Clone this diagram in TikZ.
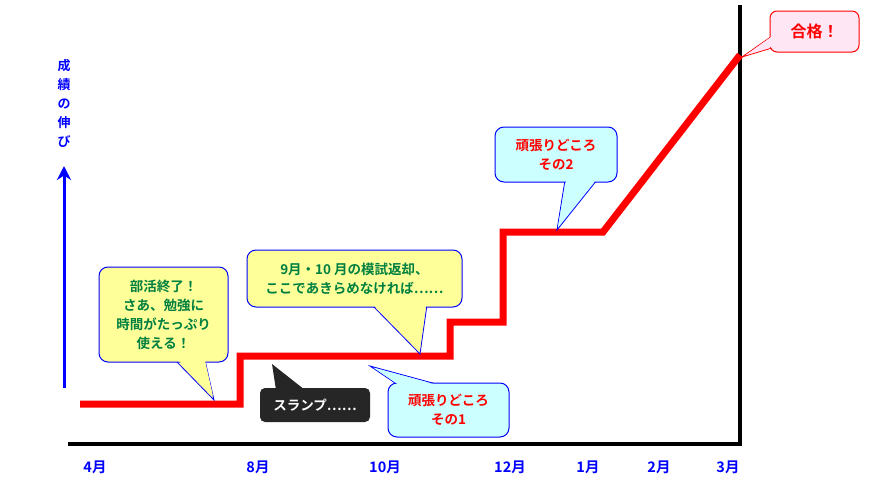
\documentclass[tikz,border=0pt]{standalone}
\usepackage{fontspec}
\setmainfont{Noto Sans CJK JP Bold}
\usetikzlibrary{arrows.meta}
\definecolor{yel}{HTML}{FFFF99}
\definecolor{cya}{HTML}{CCFFFF}
\definecolor{pnk}{HTML}{FFE6F5}
\definecolor{grn}{HTML}{008040}
\definecolor{blu}{HTML}{0000FF}
\definecolor{rd}{HTML}{FF0000}
\tikzset{
 box/.style={rounded corners=9pt,line width=1pt,inner sep=0pt,align=center,font=\fontsize{13.5}{19}\selectfont},
 month/.style={font=\fontsize{14.5}{16}\selectfont,text=blu},
}
\begin{document}
\begin{tikzpicture}[x=1pt,y=-1pt]
\useasboundingbox[fill=white] (0,0) rectangle (870,480);
% axes
\coordinate (o) at (68,444); \coordinate (xe) at (742,444);
\coordinate (yt) at (740,5);
\draw[line width=4pt] (o) -- (xe);
\draw[line width=4pt] (yt) -- (740,446);
% blue arrow
\coordinate (ab) at (64,388); \coordinate (at) at (64,166);
\draw[blu,line width=3pt,-{Stealth[length=14pt,width=14pt]}] (ab) -- (at);
\node[text=blu,font=\fontsize{13}{19}\selectfont,align=center] (ylab) at (64,103) {成\\績\\の\\伸\\び};
% months
\node[month] (m4) at (95,467) {4月};
\node[month] (m8) at (258,467) {8月};
\node[month] (m10) at (385,467) {10月};
\node[month] (m12) at (510,467) {12月};
\node[month] (m1) at (588,467) {1月};
\node[month] (m2) at (659,467) {2月};
\node[month] (m3) at (728,467) {3月};
% red line
\coordinate (p0) at (80,404); \coordinate (p1) at (240,404); \coordinate (p2) at (240,356);
\coordinate (p3) at (450,356); \coordinate (p4) at (450,322); \coordinate (p5) at (503,322);
\coordinate (p6) at (503,232); \coordinate (p7) at (603,232); \coordinate (p8) at (740,55);
\draw[rd,line width=7pt] (p0)--(p1)--(p2)--(p3)--(p4)--(p5)--(p6)--(p7)--(p8);
% callout 1
\draw[blu,fill=yel,line width=0.8pt] (175,360) -- (214,400) -- (205,360);
\node[box,draw=blu,fill=yel,text=grn,minimum width=129pt,minimum height=95pt] (c1) at (163.5,314.5) {部活終了！\\さあ、勉強に\\時間がたっぷり\\使える！};
\fill[yel] (176,358) -- (213,396) -- (204.5,358) -- cycle;
% callout 2
\draw[blu,fill=yel,line width=0.8pt] (372,305) -- (420,354) -- (427,305);
\node[box,draw=blu,fill=yel,text=grn,minimum width=215pt,minimum height=57pt] (c2) at (354.5,278.5) {9月・10 月の模試返却、\\ここであきらめなければ……};
\fill[yel] (373.5,305) -- (419.5,351) -- (426,305) -- cycle;
% callout 3 (black)
\fill[black!85] (272,364) -- (276,390) -- (305,390) -- cycle;
\node[box,rounded corners=5pt,fill=black!85,text=white,minimum width=110pt,minimum height=34pt] (c3) at (315,405) {スランプ……};
% callout 4
\draw[blu,fill=cya,line width=0.8pt] (398,385) -- (370,366) -- (440,385);
\node[box,draw=blu,fill=cya,text=rd,minimum width=121pt,minimum height=54pt] (c4) at (448.5,410) {頑張りどころ\\その1};
\fill[cya] (399,385) -- (374,368) -- (437,385) -- cycle;
% callout 5
\draw[blu,fill=cya,line width=0.8pt] (565,180) -- (557,230) -- (597,180);
\node[box,draw=blu,fill=cya,text=rd,minimum width=122pt,minimum height=55pt] (c5) at (556,154.5) {頑張りどころ\\その2};
\fill[cya] (566,181) -- (558,227) -- (595,181) -- cycle;
% callout 6
\draw[rd,fill=pnk,line width=0.8pt] (772,36) -- (742,57) -- (772,48);
\node[box,rounded corners=7pt,draw=rd,fill=pnk,text=rd,font=\fontsize{16}{18}\selectfont,minimum width=89pt,minimum height=41pt] (c6) at (814.5,31.5) {合格！};
\fill[pnk] (771,37) -- (746,55) -- (771,47) -- cycle;
\end{tikzpicture}
\end{document}
